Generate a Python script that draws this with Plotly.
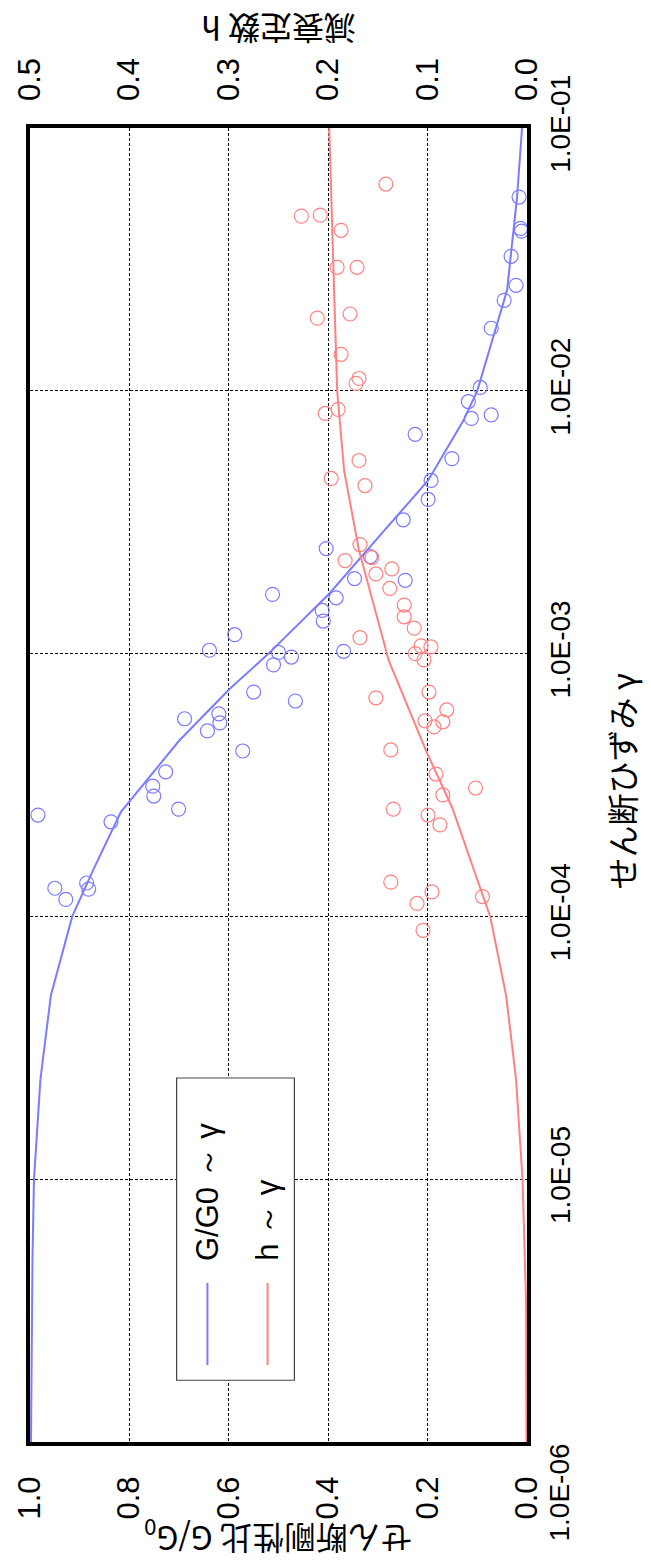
import plotly.graph_objects as go

# ---- data ----
# Fitted G/G0 ~ gamma curve
g_curve_strain = [1e-6, 2e-6, 5e-6, 1e-5, 2.4e-5, 5e-5, 1e-4, 1.5e-4, 2.5e-4, 4.66e-4,
                  7.35e-4, 1e-3, 1.69e-3, 3e-3, 4.56e-3, 7.7e-3, 1e-2, 2.42e-2, 5.46e-2, 1e-1]
g_curve_ratio = [0.998, 0.997, 0.995, 0.992, 0.979, 0.958, 0.915, 0.873, 0.817, 0.700,
                 0.598, 0.520, 0.398, 0.283, 0.199, 0.128, 0.100, 0.040, 0.020, 0.010]

# Fitted h ~ gamma curve
h_curve_strain = [1e-6, 3.5e-6, 1e-5, 2.4e-5, 5e-5, 7.5e-5, 1e-4, 1.28e-4, 2.58e-4, 4.27e-4,
                  9.4e-4, 2.47e-3, 4.98e-3, 1e-2, 3e-2, 1e-1]
h_curve_damp = [0.0005, 0.001, 0.0045, 0.011, 0.021, 0.030, 0.037, 0.047, 0.075, 0.1016,
                0.139, 0.169, 0.184, 0.191, 0.195, 0.199]

# Test points G/G0
g_pts_strain = [0.0546, 0.0415, 0.0405, 0.0325, 0.0252, 0.0221, 0.0173, 0.0103, 0.0091, 0.0081,
                0.00785, 0.00683, 0.00552, 0.00456, 0.00386, 0.00323, 0.00251, 0.00234, 0.0019,
                0.00193, 0.00168, 0.00163, 0.00146, 0.00133, 0.00118, 0.00102, 0.00103, 0.00101,
                0.000906, 0.00097, 0.00066, 0.000714, 0.000565, 0.00059, 0.000545, 0.000508,
                0.000426, 0.000355, 0.000313, 0.000287, 0.000256, 0.000229, 0.000243, 0.000134,
                0.000127, 0.000128, 0.000116]
g_pts_ratio = [0.016, 0.013, 0.011, 0.032, 0.022, 0.046, 0.072, 0.094, 0.118, 0.072,
               0.112, 0.225, 0.151, 0.193, 0.199, 0.249, 0.404, 0.315, 0.245,
               0.347, 0.512, 0.384, 0.412, 0.410, 0.588, 0.369, 0.639, 0.500,
               0.510, 0.474, 0.466, 0.550, 0.689, 0.620, 0.618, 0.643,
               0.572, 0.727, 0.753, 0.751, 0.701, 0.837, 0.984, 0.886,
               0.882, 0.950, 0.928]

# Test points h
h_pts_strain = [0.0612, 0.0462, 0.0466, 0.0408, 0.0295, 0.0295, 0.0189, 0.0196, 0.01377, 0.01114,
                0.01067, 0.0082, 0.0085, 0.00543, 0.00464, 0.00436, 0.0026, 0.00226, 0.00232,
                0.00201, 0.0021, 0.00177, 0.00153, 0.00138, 0.00125, 0.00115, 0.00107, 0.00106,
                0.001, 0.000946, 0.000714, 0.000679, 0.000611, 0.00055, 0.000555, 0.000526,
                0.00043, 0.000348, 0.000308, 0.00029, 0.000256, 0.000243, 0.000223, 0.000135,
                0.000124, 0.000112, 0.000119, 8.85e-5]
h_pts_damp = [0.142, 0.227, 0.208, 0.187, 0.191, 0.171, 0.211, 0.178, 0.187, 0.169,
              0.172, 0.203, 0.190, 0.169, 0.197, 0.163, 0.168, 0.183, 0.156,
              0.152, 0.136, 0.138, 0.1235, 0.1235, 0.1135, 0.168, 0.1066, 0.0966,
              0.1125, 0.1036, 0.0986, 0.152, 0.0807, 0.0847, 0.1026, 0.0936,
              0.137, 0.0916, 0.0518, 0.0847, 0.1345, 0.0996, 0.0876, 0.137,
              0.0956, 0.1106, 0.0448, 0.1046]

strain_ticks = [1e-6, 1e-5, 1e-4, 1e-3, 1e-2, 1e-1]
strain_labels = ["1.0E-06", "1.0E-05", "1.0E-04", "1.0E-03", "1.0E-02", "1.0E-01"]
g_ticks = [0.0, 0.2, 0.4, 0.6, 0.8, 1.0]
h_ticks = [0.0, 0.1, 0.2, 0.3, 0.4, 0.5]

BLUE = "#7b7bff"
RED = "#ff8080"
TICKFONT = dict(family="Liberation Sans, Arial, sans-serif", size=31, color="black")
YTICKFONT = dict(family="Liberation Sans, Arial, sans-serif", size=28, color="black")
JPFONT = dict(family="Noto Sans CJK JP, sans-serif", size=32, color="black")

fig = go.Figure()
fig.add_trace(go.Scatter(x=g_curve_ratio, y=g_curve_strain, mode="lines",
                         line=dict(color=BLUE, width=2), xaxis="x", yaxis="y"))
fig.add_trace(go.Scatter(x=h_curve_damp, y=h_curve_strain, mode="lines",
                         line=dict(color=RED, width=2), xaxis="x2", yaxis="y"))
fig.add_trace(go.Scatter(x=g_pts_ratio, y=g_pts_strain, mode="markers",
                         marker=dict(symbol="circle-open", size=14, color=BLUE, line=dict(width=1.2)),
                         xaxis="x", yaxis="y"))
fig.add_trace(go.Scatter(x=h_pts_damp, y=h_pts_strain, mode="markers",
                         marker=dict(symbol="circle-open", size=14, color=RED, line=dict(width=1.2)),
                         xaxis="x2", yaxis="y"))

# first strain label is pushed inside the plot extent (as in the reference), the rest sit on their ticks
axis_tick_text = [""] + strain_labels[1:]

fig.update_layout(
    width=651, height=1562,
    margin=dict(l=25, r=124, t=128, b=120),
    paper_bgcolor="white", plot_bgcolor="white",
    showlegend=False,
    xaxis=dict(range=[1.0, 0.0], tickvals=g_ticks, tickformat=".1f", tickangle=-90,
               tickfont=TICKFONT, showgrid=True, gridcolor="black", gridwidth=1,
               griddash="3px,2px", zeroline=False, showline=True, linewidth=4,
               linecolor="black", mirror=True, ticks="", ticklabelstandoff=18),
    xaxis2=dict(range=[0.5, 0.0], tickvals=h_ticks, tickformat=".1f", tickangle=-90,
                tickfont=TICKFONT, overlaying="x", side="top", showgrid=False,
                zeroline=False, showline=False, ticks="", ticklabelstandoff=26),
    yaxis=dict(type="log", range=[-6, -1], tickvals=strain_ticks, ticktext=axis_tick_text,
               tickangle=-90, side="right", tickfont=YTICKFONT,
               showgrid=True, gridcolor="black", gridwidth=1, griddash="3px,2px",
               zeroline=False, showline=True, linewidth=4, linecolor="black", mirror=True,
               ticks="", ticklabelstandoff=5),
)

fig.add_annotation(text=strain_labels[0], xref="paper", yref="y", x=1.0, xshift=14,
                   y=-6, xanchor="left", yanchor="top", textangle=-90,
                   showarrow=False, font=YTICKFONT)

# axis titles (rotated like the reference)
fig.add_annotation(text="せん断剛性比 G/G<sub>0</sub>", xref="paper", yref="paper",
                   x=0.5, y=-0.0725, xanchor="center", yanchor="middle",
                   textangle=180, showarrow=False, font=JPFONT)
fig.add_annotation(text="減衰定数 h", xref="paper", yref="paper",
                   x=0.5, y=1.0745, xanchor="center", yanchor="middle",
                   textangle=180, showarrow=False, font=JPFONT)
fig.add_annotation(text="せん断ひずみ γ", xref="paper", yref="paper",
                   x=1.19, y=0.503, xanchor="center", yanchor="middle",
                   textangle=-90, showarrow=False, font=JPFONT)

# legend box drawn by hand (rotated)
fig.add_shape(type="rect", xref="paper", yref="paper", x0=0.295, x1=0.532, y0=0.047, y1=0.277,
              line=dict(color="#444444", width=1.2), fillcolor="white", layer="above")
fig.add_shape(type="line", xref="paper", yref="paper", x0=0.357, x1=0.357, y0=0.0586, y1=0.121,
              line=dict(color=BLUE, width=2), layer="above")
fig.add_shape(type="line", xref="paper", yref="paper", x0=0.478, x1=0.478, y0=0.0586, y1=0.121,
              line=dict(color=RED, width=2), layer="above")
LEGFONT = dict(family="Liberation Sans, Arial, sans-serif", size=31, color="black")
fig.add_annotation(text="G/G0 ～ γ", xref="paper", yref="paper", x=0.357, y=0.1365,
                   xanchor="center", yanchor="bottom", textangle=-90, showarrow=False, font=LEGFONT)
fig.add_annotation(text="h ～ γ", xref="paper", yref="paper", x=0.478, y=0.1365,
                   xanchor="center", yanchor="bottom", textangle=-90, showarrow=False, font=LEGFONT)

fig.write_html("out.html")
